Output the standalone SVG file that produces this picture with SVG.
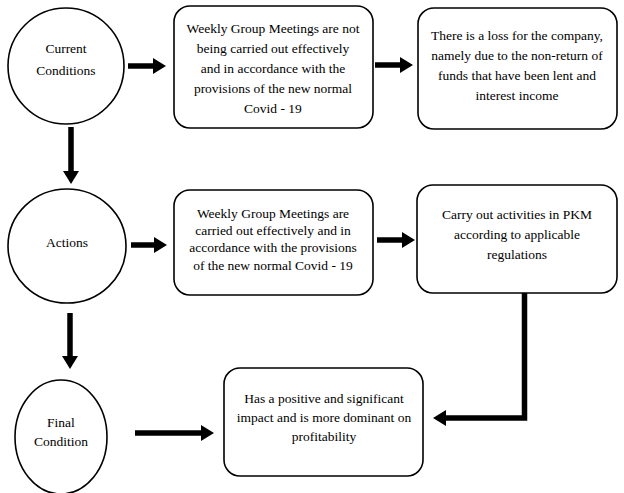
<svg xmlns="http://www.w3.org/2000/svg" width="624" height="493" viewBox="0 0 624 493" font-family="'Liberation Serif', 'Times New Roman', serif" font-size="13.5">
<style>
.n{fill:#fff;stroke:#000;stroke-width:1.6}
.t{fill:#000;text-anchor:middle}
.c{stroke:#000;stroke-width:5.5;fill:none}
.h{fill:#000}
</style>
<rect width="624" height="493" fill="#fff"/>
<g id="current">
<circle class="n" cx="66" cy="66" r="58"/>
<text class="t" x="66" y="53">Current</text>
<text class="t" x="66" y="75">Conditions</text>
</g>
<g id="box1">
<rect class="n" x="174" y="6" width="199" height="122" rx="16"/>
<text class="t" x="273" y="33">Weekly Group Meetings are not</text>
<text class="t" x="273" y="53">being carried out effectively</text>
<text class="t" x="273" y="73">and in accordance with the</text>
<text class="t" x="273" y="93">provisions of the new normal</text>
<text class="t" x="273" y="113">Covid - 19</text>
</g>
<g id="box2">
<rect class="n" x="418" y="8" width="199" height="121" rx="16"/>
<text class="t" x="517" y="40">There is a loss for the company,</text>
<text class="t" x="517" y="60">namely due to the non-return of</text>
<text class="t" x="517" y="80">funds that have been lent and</text>
<text class="t" x="517" y="100">interest income</text>
</g>
<g id="actions">
<ellipse class="n" cx="67" cy="246" rx="59" ry="57"/>
<text class="t" x="67" y="247">Actions</text>
</g>
<g id="box3">
<rect class="n" x="174" y="190" width="199" height="105" rx="16"/>
<text class="t" x="273" y="218">Weekly Group Meetings are</text>
<text class="t" x="273" y="235">carried out effectively and in</text>
<text class="t" x="273" y="252">accordance with the provisions</text>
<text class="t" x="273" y="270">of the new normal Covid - 19</text>
</g>
<g id="box4">
<rect class="n" x="417" y="185" width="200" height="108" rx="16"/>
<text class="t" x="517" y="219">Carry out activities in PKM</text>
<text class="t" x="517" y="239">according to applicable</text>
<text class="t" x="517" y="259">regulations</text>
</g>
<g id="final">
<ellipse class="n" cx="61" cy="437" rx="46" ry="57"/>
<text class="t" x="61" y="427">Final</text>
<text class="t" x="61" y="446">Condition</text>
</g>
<g id="box5">
<rect class="n" x="224" y="368" width="199" height="108" rx="16"/>
<text class="t" x="324" y="403">Has a positive and significant</text>
<text class="t" x="324" y="422">impact and is more dominant on</text>
<text class="t" x="324" y="441">profitability</text>
</g>
<g id="connectors">
<line class="c" x1="128" y1="66" x2="154" y2="66"/>
<polygon class="h" points="153,58 166,66 153,74"/>
<line class="c" x1="375" y1="65" x2="401" y2="65"/>
<polygon class="h" points="400,57 413,65 400,73"/>
<line class="c" x1="71" y1="127" x2="71" y2="172"/>
<polygon class="h" points="63,171 79,171 71,184"/>
<line class="c" x1="131" y1="245" x2="155" y2="245"/>
<polygon class="h" points="154,237 167,245 154,253"/>
<line class="c" x1="377" y1="240" x2="403" y2="240"/>
<polygon class="h" points="402,232 415,240 402,248"/>
<line class="c" x1="70" y1="313" x2="70" y2="357"/>
<polygon class="h" points="62,356 78,356 70,369"/>
<line class="c" x1="135" y1="433" x2="202" y2="433"/>
<polygon class="h" points="201,425 214,433 201,441"/>
<polyline class="c" points="524.5,293 524.5,418 444,418"/>
<polygon class="h" points="446,410 433,418 446,426"/>
</g>
</svg>
